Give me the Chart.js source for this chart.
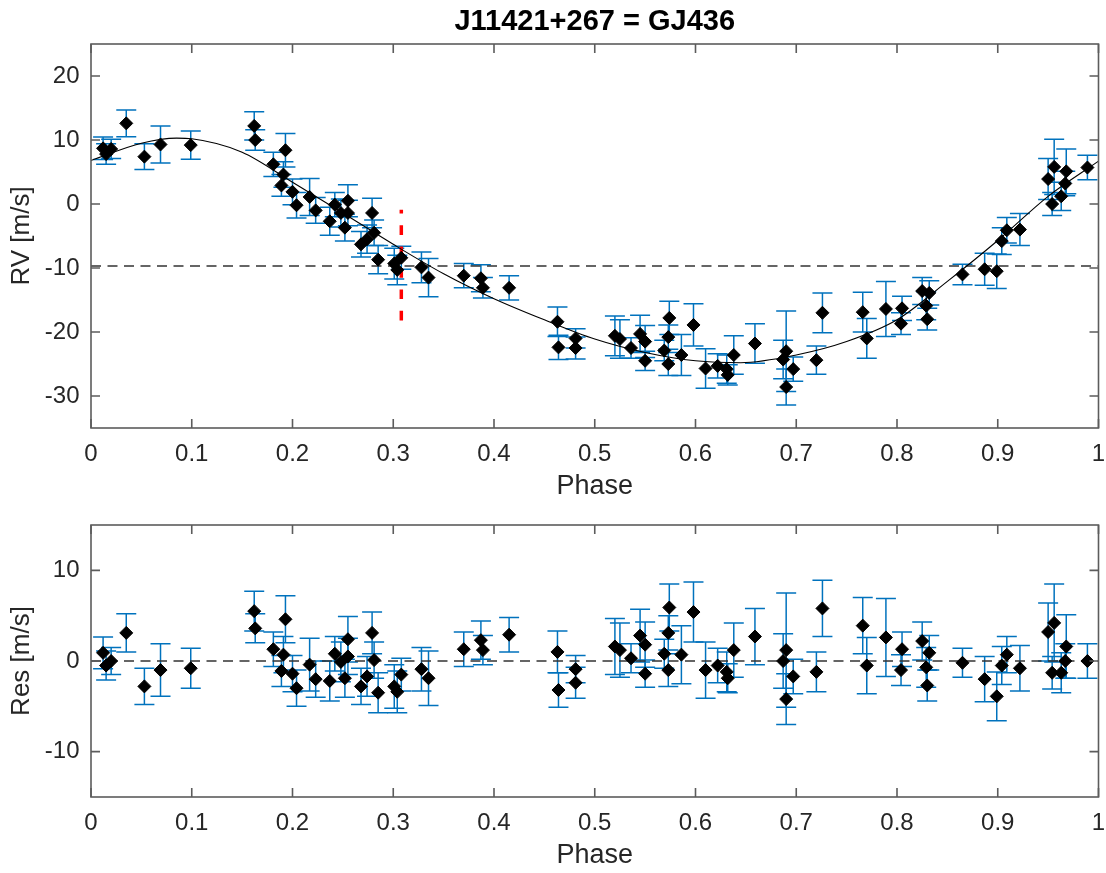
<!DOCTYPE html>
<html>
<head>
<meta charset="utf-8">
<title>J11421+267 = GJ436</title>
<script src="https://cdn.jsdelivr.net/npm/chart.js@4.4.1/dist/chart.umd.min.js"></script>
<style>
  html, body { margin: 0; padding: 0; background: #ffffff; }
  #wrap { position: relative; width: 1106px; height: 873px; overflow: hidden; }
  canvas { position: absolute; left: 0; }
</style>
</head>
<body>
<div id="wrap">
  <canvas id="rvChart" width="1106" height="510" style="top:0px"></canvas>
  <canvas id="resChart" width="1106" height="363" style="top:510px"></canvas>
</div>
<script>
// ---- Phase-folded radial velocities of GJ 436 ----
const phase = [0.012,0.015,0.020,0.035,0.053,0.069,0.099,0.162,0.163,0.181,
  0.189,0.191,0.193,0.200,0.204,0.217,0.223,0.237,0.242,0.248,
  0.252,0.255,0.255,0.268,0.274,0.279,0.281,0.285,0.301,0.304,
  0.308,0.328,0.335,0.370,0.387,0.389,0.415,0.463,0.464,0.481,
  0.481,0.520,0.525,0.536,0.545,0.550,0.550,0.569,0.573,0.573,
  0.574,0.586,0.598,0.610,0.622,0.631,0.632,0.638,0.659,0.687,
  0.690,0.690,0.697,0.720,0.726,0.766,0.770,0.789,0.804,0.805,
  0.825,0.829,0.830,0.832,0.865,0.887,0.899,0.904,0.909,0.922,
  0.950,0.954,0.956,0.963,0.967,0.968,0.989];

// RV in m/s
const rv = [8.7,7.8,8.6,12.6,7.4,9.3,9.2,12.2,10.0,6.2,
  2.9,4.6,8.4,1.9,-0.2,1.1,-1.0,-2.7,-0.1,-1.4,
  -3.7,0.5,-1.4,-6.3,-5.5,-1.4,-4.5,-8.7,-9.3,-10.3,
  -8.4,-9.9,-11.5,-11.2,-11.6,-13.1,-13.1,-18.4,-22.4,-21.0,
  -22.5,-20.6,-21.1,-22.5,-20.3,-21.5,-24.5,-22.9,-20.8,-25.0,
  -17.8,-23.6,-18.9,-25.7,-25.3,-25.8,-26.7,-23.6,-21.8,-24.3,
  -23.0,-28.6,-25.8,-24.4,-17.0,-16.9,-21.0,-16.4,-18.7,-16.3,
  -13.6,-15.9,-18.0,-13.9,-11.0,-10.2,-10.5,-5.8,-4.1,-4.0,
  3.9,0.0,5.8,1.2,3.2,5.1,5.7];

// O-C residuals in m/s
const res = [0.9,-0.5,0.0,3.1,-2.8,-1.0,-0.8,5.5,3.6,1.3,
  -1.1,0.7,4.6,-1.4,-3.0,-0.4,-2.0,-2.2,0.8,-0.1,
  -1.9,2.4,0.5,-2.8,-1.7,3.1,0.1,-3.5,-2.8,-3.4,
  -1.5,-0.9,-1.9,1.3,2.3,1.2,2.9,1.0,-3.2,-0.9,
  -2.4,1.6,1.2,0.3,2.8,1.8,-1.4,0.8,3.1,-1.0,
  5.9,0.7,5.4,-1.0,-0.5,-1.2,-1.9,1.2,2.7,0.0,
  1.2,-4.2,-1.7,-1.2,5.8,3.9,-0.5,2.6,-1.0,1.3,
  2.2,-0.7,-2.7,0.9,-0.2,-2.0,-3.9,-0.5,0.7,-0.8,
  3.2,-1.3,4.2,-1.3,0.0,1.6,0.0];

// 1-sigma uncertainties in m/s
const rvErr = [1.75,1.6,1.5,2.1,2.0,2.9,2.2,2.2,1.6,1.9,
  1.7,2.0,2.6,2.0,2.0,2.9,2.0,2.2,1.9,2.2,
  2.1,2.5,2.0,2.0,2.2,2.3,2.0,2.2,2.4,2.3,
  1.8,2.4,3.0,1.9,2.1,1.6,1.9,2.3,1.9,1.5,
  1.7,3.1,3.0,1.6,2.9,2.5,1.5,1.6,1.9,1.8,
  2.6,3.2,3.3,3.1,1.9,2.2,1.6,3.0,3.1,3.0,
  6.3,2.8,1.9,2.2,3.1,3.1,3.1,4.3,1.7,1.9,
  2.1,2.2,1.7,1.9,1.6,2.5,2.7,2.1,2.0,2.5,
  3.2,1.8,4.3,2.2,1.9,3.5,1.9];

// Orbit model sampled along phase
const modelPhase = [0.00,0.05,0.085,0.10,0.15,0.20,0.25,0.30,0.35,0.40,0.45,0.50,
  0.55,0.60,0.645,0.70,0.75,0.80,0.85,0.90,0.95,1.00];
const modelRv = [6.8,9.5,10.3,10.2,8.1,3.4,-1.4,-6.3,-10.9,-14.8,-18.1,-21.1,
  -23.2,-24.5,-24.8,-23.6,-21.5,-18.1,-12.1,-5.7,1.2,6.7];

// Systemic velocity and the marked phase
const gammaRv = -9.7;
const markPhase = 0.308;
const markRange = [-18.2, -0.9];

// Axis ticks
const xTicks = [0,0.1,0.2,0.3,0.4,0.5,0.6,0.7,0.8,0.9,1];
const rvTicks = [-30,-20,-10,0,10,20];
const resTicks = [-10,0,10];

const FONT = "'Liberation Sans', Arial, Helvetica, sans-serif";
const AXIS_COLOR = '#5c5c5c';
const TEXT_COLOR = '#262626';
const BAR_COLOR = '#0072BD';

// Error bars for the first dataset, drawn under the markers
const errorBarPlugin = {
  id: 'errorBars',
  beforeDatasetsDraw(chart, args, opts) {
    const {ctx, chartArea, scales} = chart;
    const meta = chart.getDatasetMeta(0);
    const ys = scales.y;
    ctx.save();
    ctx.beginPath();
    ctx.rect(chartArea.left, chartArea.top, chartArea.right - chartArea.left, chartArea.bottom - chartArea.top);
    ctx.clip();
    ctx.strokeStyle = BAR_COLOR;
    ctx.lineWidth = 1.5;
    const vals = chart.data.datasets[0].data;
    meta.data.forEach((pt, i) => {
      const e = opts.errors[i];
      const v = vals[i].y;
      const x = pt.x;
      const yTop = ys.getPixelForValue(v + e);
      const yBot = ys.getPixelForValue(v - e);
      const c = opts.cap;
      ctx.beginPath();
      ctx.moveTo(x, yTop); ctx.lineTo(x, yBot);
      ctx.moveTo(x - c, yTop); ctx.lineTo(x + c, yTop);
      ctx.moveTo(x - c, yBot); ctx.lineTo(x + c, yBot);
      ctx.stroke();
    });
    ctx.restore();
  }
};

// Boxed axes with inward tick marks on all four sides
const boxAxesPlugin = {
  id: 'boxAxes',
  afterDatasetsDraw(chart) {
    const {ctx, chartArea: a, scales} = chart;
    const tl = 9;
    ctx.save();
    ctx.strokeStyle = AXIS_COLOR;
    ctx.lineWidth = 1.6;
    ctx.beginPath();
    scales.x.ticks.forEach(t => {
      const px = scales.x.getPixelForValue(t.value);
      ctx.moveTo(px, a.bottom); ctx.lineTo(px, a.bottom - tl);
      ctx.moveTo(px, a.top); ctx.lineTo(px, a.top + tl);
    });
    scales.y.ticks.forEach(t => {
      const py = scales.y.getPixelForValue(t.value);
      ctx.moveTo(a.left, py); ctx.lineTo(a.left + tl, py);
      ctx.moveTo(a.right, py); ctx.lineTo(a.right - tl, py);
    });
    ctx.stroke();
    ctx.strokeRect(a.left, a.top, a.right - a.left, a.bottom - a.top);
    ctx.restore();
  }
};

function pairs(xs, ys) { return xs.map((x, i) => ({x: x, y: ys[i]})); }

function panel(canvasId, cfg) {
  const datasets = [
    { // observations
      data: pairs(phase, cfg.values),
      pointStyle: 'rectRot', pointRadius: 6.5, pointBorderWidth: 1,
      backgroundColor: '#000000', borderColor: '#000000', showLine: false, order: 0
    },
    { // zero / systemic level
      data: [{x: 0, y: cfg.level}, {x: 1, y: cfg.level}],
      showLine: true, pointRadius: 0, borderColor: '#333333', borderWidth: 1.5,
      borderDash: [10, 6.5], order: 2
    }
  ];
  if (cfg.model) {
    datasets.push({
      data: pairs(modelPhase, modelRv),
      showLine: true, pointRadius: 0, borderColor: '#000000', borderWidth: 1.1,
      cubicInterpolationMode: 'monotone', order: 1
    });
    datasets.push({
      data: [{x: markPhase, y: markRange[0]}, {x: markPhase, y: markRange[1]}],
      showLine: true, pointRadius: 0, borderColor: '#ff0000', borderWidth: 3.5,
      borderDash: [9.7, 11.7], order: 3
    });
  }
  return new Chart(document.getElementById(canvasId), {
    type: 'scatter',
    data: { datasets: datasets },
    plugins: [errorBarPlugin, boxAxesPlugin],
    options: {
      responsive: false,
      animation: false,
      events: [],
      layout: { padding: { left: 0, right: 5, top: cfg.padTop, bottom: 0 } },
      plugins: {
        legend: { display: false },
        tooltip: { enabled: false },
        title: cfg.title ? {
          display: true, text: cfg.title, fullSize: false, color: '#000000',
          font: { family: FONT, size: 29, weight: 'bold' },
          padding: { top: 4.4, bottom: 4.8 }
        } : { display: false },
        errorBars: { errors: rvErr, cap: 10 }
      },
      scales: {
        x: {
          type: 'linear', min: 0, max: 1,
          afterBuildTicks: s => { s.ticks = xTicks.map(v => ({value: v})); },
          afterFit: s => { s.height = cfg.xHeight; s.paddingLeft = 0; s.paddingRight = 0; },
          grid: { display: false, drawTicks: false },
          border: { display: false },
          ticks: { color: TEXT_COLOR, padding: 11.5, maxRotation: 0, autoSkip: false,
                   font: { family: FONT, size: 24 }, callback: v => String(v) },
          title: { display: true, text: 'Phase', color: TEXT_COLOR,
                   font: { family: FONT, size: 27 }, padding: { top: 0, bottom: cfg.xTitlePad } }
        },
        y: {
          type: 'linear', min: cfg.yMin, max: cfg.yMax,
          afterBuildTicks: s => { s.ticks = cfg.yTicks.map(v => ({value: v})); },
          afterFit: s => { s.width = 91; s.paddingTop = 0; s.paddingBottom = 0; },
          grid: { display: false, drawTicks: false },
          border: { display: false },
          ticks: { color: TEXT_COLOR, padding: 11.5, autoSkip: false,
                   font: { family: FONT, size: 24 }, callback: v => String(v) },
          title: { display: true, text: cfg.yLabel, color: TEXT_COLOR,
                   font: { family: FONT, size: 26 }, padding: { top: 6.5, bottom: 0 } }
        }
      }
    }
  });
}

panel('rvChart', {
  values: rv, level: gammaRv, model: true, title: 'J11421+267 = GJ436',
  padTop: 0, xHeight: 82, xTitlePad: 6.8,
  yMin: -35, yMax: 25, yTicks: rvTicks, yLabel: 'RV [m/s]'
});

panel('resChart', {
  values: res, level: 0, model: false, title: null,
  padTop: 15, xHeight: 76, xTitlePad: 0.8,
  yMin: -15, yMax: 15, yTicks: resTicks, yLabel: 'Res [m/s]'
});
</script>
</body>
</html>
